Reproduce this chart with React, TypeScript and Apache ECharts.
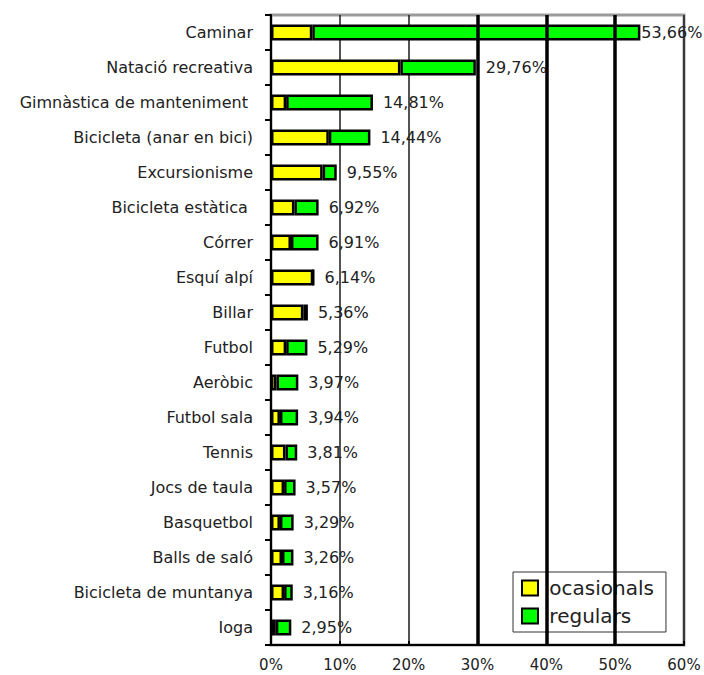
import React, { useEffect, useRef } from "react";
import * as echarts from "echarts";

const categories = [
  "Caminar",
  "Natació recreativa",
  "Gimnàstica de manteniment ",
  "Bicicleta (anar en bici)",
  "Excursionisme",
  "Bicicleta estàtica ",
  "Córrer",
  "Esquí alpí",
  "Billar",
  "Futbol",
  "Aeròbic",
  "Futbol sala",
  "Tennis",
  "Jocs de taula",
  "Basquetbol",
  "Balls de saló",
  "Bicicleta de muntanya",
  "Ioga",
];

const ocasionals = [6.0, 18.8, 2.2, 8.4, 7.5, 3.4, 2.9, 6.14, 4.7, 2.2, 0.8, 1.3, 2.1, 1.9, 1.3, 1.6, 1.9, 0.7];
const regulars = [47.66, 10.96, 12.61, 6.04, 2.05, 3.52, 4.01, 0, 0.66, 3.09, 3.17, 2.64, 1.71, 1.67, 1.99, 1.66, 1.26, 2.25];
const totals = [53.66, 29.76, 14.81, 14.44, 9.55, 6.92, 6.91, 6.14, 5.36, 5.29, 3.97, 3.94, 3.81, 3.57, 3.29, 3.26, 3.16, 2.95];

const xTicks = [0, 10, 20, 30, 40, 50, 60];
const heavyGrid = [30, 40, 50];

const FONT = "DejaVu Sans";

export default function App() {
  const ref = useRef<HTMLDivElement>(null);
  useEffect(() => {
    if (!ref.current) return;
    const chart = echarts.init(ref.current, null, { renderer: "svg" });
    const fmt = (v: number) => v.toFixed(2).replace(".", ",") + "%";
    chart.setOption({
      animation: false,
      backgroundColor: "#ffffff",
      textStyle: { fontFamily: FONT },
      grid: {
        left: 271,
        right: 20,
        top: 15,
        bottom: 30,
        show: true,
        borderColor: "#9a9a9a",
        borderWidth: 3,
        backgroundColor: "transparent",
      },
      legend: {
        orient: "vertical",
        left: 513,
        top: 572,
        padding: [6, 12, 6, 8],
        itemGap: 8,
        itemWidth: 16,
        itemHeight: 15,
        backgroundColor: "#ffffff",
        borderColor: "#333",
        borderWidth: 1,
        icon: "rect",
        formatter: (n: string) => "\u00a0" + n,
        textStyle: { fontFamily: FONT, fontSize: 20, lineHeight: 20, color: "#222" },
        data: [
          { name: "ocasionals", itemStyle: { color: "#ffff00", borderColor: "#000", borderWidth: 2 } },
          { name: "regulars", itemStyle: { color: "#00ff00", borderColor: "#000", borderWidth: 2 } },
        ],
      },
      xAxis: {
        type: "value",
        min: 0,
        max: 60,
        interval: 10,
        axisLine: { show: true, lineStyle: { color: "#000", width: 2 } },
        axisTick: { show: true, inside: true, length: 4, lineStyle: { color: "#000", width: 2 } },
        axisLabel: {
          formatter: (v: number) => (xTicks.includes(v) ? v + "%" : ""),
          fontFamily: FONT,
          fontSize: 15,
          color: "#222",
          margin: 12,
        },
        splitLine: { show: true, lineStyle: { color: "#1a1a1a", width: 1.5 } },
      },
      yAxis: {
        type: "category",
        inverse: true,
        data: categories,
        axisLine: { show: true, lineStyle: { color: "#000", width: 2 } },
        axisTick: { show: true, length: 6, lineStyle: { color: "#000", width: 2 } },
        axisLabel: { fontFamily: FONT, fontSize: 16, color: "#222", margin: 18 },
        splitLine: { show: false },
      },
      series: [
        {
          name: "grid",
          type: "line",
          data: [],
          z: 1,
          silent: true,
          markLine: {
            symbol: "none",
            silent: true,
            label: { show: false },
            lineStyle: { color: "#000", width: 3.5, type: "solid" },
            data: heavyGrid.map((v) => ({ xAxis: v })),
          },
        },
        {
          name: "ocasionals",
          type: "bar",
          stack: "t",
          barWidth: 16,
          z: 3,
          data: ocasionals,
          itemStyle: { color: "#ffff00", borderColor: "#000", borderWidth: 2.5 },
        },
        {
          name: "regulars",
          type: "bar",
          stack: "t",
          barWidth: 16,
          z: 3,
          data: regulars.map((v, i) => (i === 0 ? { value: v, label: { distance: 1 } } : v)),
          itemStyle: { color: "#00ff00", borderColor: "#000", borderWidth: 2.5 },
          label: {
            show: true,
            position: "right",
            distance: 10,
            fontFamily: FONT,
            fontSize: 16,
            color: "#222",
            formatter: (p: any) => fmt(totals[p.dataIndex]),
          },
        },
      ],
    });
    return () => chart.dispose();
  }, []);
  return (
    <div
      ref={ref}
      style={{ position: "absolute", left: 0, top: 0, width: 704, height: 675 }}
    />
  );
}
